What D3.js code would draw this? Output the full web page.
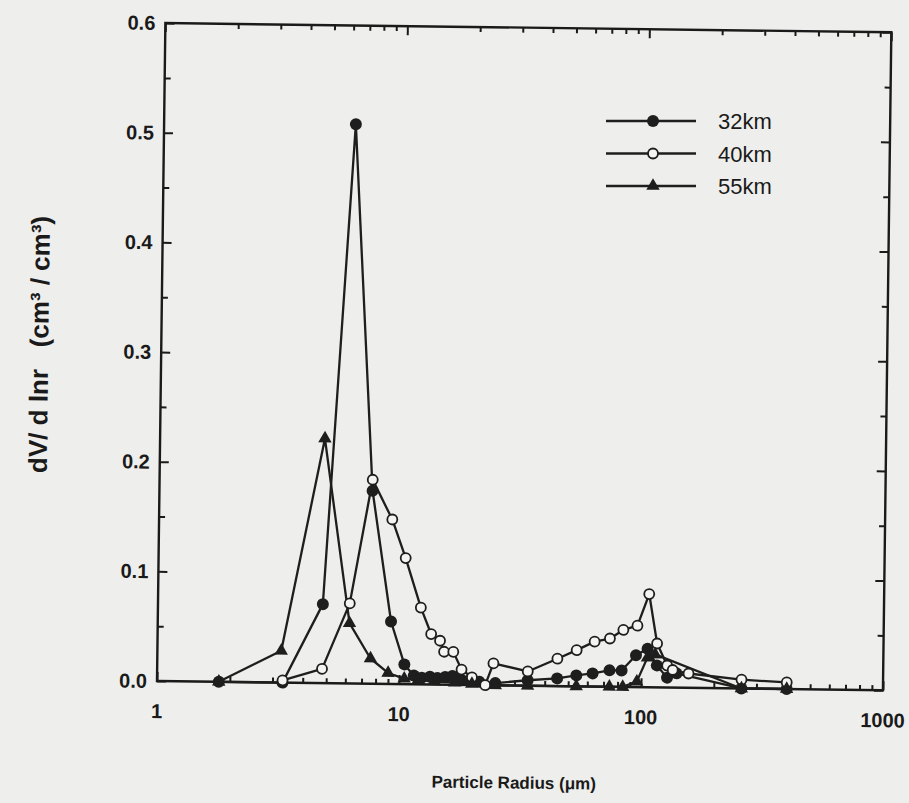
<!DOCTYPE html>
<html>
<head>
<meta charset="utf-8">
<script src="https://cdn.jsdelivr.net/npm/d3@7"></script>
<style>
  html, body { margin: 0; padding: 0; background: #eeeeec; }
  svg { display: block; }
  text { font-family: "Liberation Sans", Arial, Helvetica, sans-serif; fill: #1a1a1a; }
</style>
</head>
<body>
<div id="wrapper"></div>
<script>
// Data
const radius32 = [1.8, 3.3, 4.8, 6.2, 7.6, 9.2, 10.5, 11.5, 12.4, 13.4, 14.4, 15.5, 16.6, 18.0, 19.5, 21.5, 25, 34, 45, 54, 63, 74, 83, 95, 106, 116, 128, 140, 260, 400]
const dv32 = [0, 0, 0.072, 0.51, 0.176, 0.057, 0.018, 0.008, 0.006, 0.007, 0.006, 0.007, 0.008, 0.005, 0.004, 0.003, 0.002, 0.005, 0.007, 0.010, 0.012, 0.015, 0.015, 0.029, 0.035, 0.020, 0.009, 0.013, 0.0, 0.0]

const radius40 = [3.3, 4.8, 6.2, 7.6, 9.2, 10.5, 12.2, 13.5, 14.7, 15.3, 16.7, 18.1, 20.0, 22.7, 24.5, 34, 45, 54, 64, 74, 84, 96, 107, 116, 128, 135, 157, 260, 400]
const dv40 = [0.002, 0.013, 0.073, 0.186, 0.150, 0.115, 0.070, 0.046, 0.040, 0.030, 0.030, 0.014, 0.007, 0.0, 0.020, 0.013, 0.025, 0.033, 0.041, 0.044, 0.052, 0.056, 0.085, 0.040, 0.020, 0.016, 0.013, 0.008, 0.006]

const radius55 = [1.8, 3.25, 4.8, 6.2, 7.6, 9.0, 10.5, 12.0, 14.0, 17.0, 20.0, 25, 34, 54, 74, 84, 96, 106, 114, 260, 400]
const dv55 = [0, 0.029, 0.223, 0.055, 0.023, 0.010, 0.005, 0.004, 0.003, 0.002, 0.001, 0.0, 0.0, 0.0, 0.0, 0.0, 0.005, 0.027, 0.030, 0.0, 0.0]

const seriesNames = ["32km", "40km", "55km"]
const xTickValues = [1, 10, 100, 1000]
const yTickValues = [0, 0.1, 0.2, 0.3, 0.4, 0.5, 0.6]

// Mitoitus
const dimensions = {
  width: 909,
  height: 803,
  margin: { top: 23, left: 157 },
  boundedWidth: 726,
  boundedHeight: 658
}
const tilt = 0.73  // the scanned page is slightly rotated

const wrapper = d3.select("#wrapper")
  .append("svg")
  .attr("width", dimensions.width)
  .attr("height", dimensions.height)

wrapper.append("rect")
  .attr("width", dimensions.width)
  .attr("height", dimensions.height)
  .attr("fill", "#eeeeec")

const bounds = wrapper.append("g")
  .attr("transform", `rotate(${tilt}, ${dimensions.margin.left}, ${dimensions.margin.top + dimensions.boundedHeight}) translate(${dimensions.margin.left}, ${dimensions.margin.top})`)

// Skaalaimet
const xScale = d3.scaleLog()
  .domain([1, 1000])
  .range([0, dimensions.boundedWidth])

const yScale = d3.scaleLinear()
  .domain([0, 0.6])
  .range([dimensions.boundedHeight, 0])

// Akselit
const minorX = []
for (let d = 1; d < 1000; d *= 10) {
  for (let k = 2; k <= 9; k++) minorX.push(d * k)
}
const minorY = d3.range(0.05, 0.6, 0.1)

const frameColor = "#1a1a1a"

// bottom
bounds.append("g")
  .attr("transform", `translate(0, ${dimensions.boundedHeight})`)
  .call(d3.axisTop(xScale).tickValues(xTickValues).tickSize(9).tickFormat(""))
  .call(g => g.select(".domain").remove())
bounds.append("g")
  .attr("transform", `translate(0, ${dimensions.boundedHeight})`)
  .call(d3.axisTop(xScale).tickValues(minorX).tickSize(5).tickFormat(""))
  .call(g => g.select(".domain").remove())
// top
bounds.append("g")
  .call(d3.axisBottom(xScale).tickValues(xTickValues).tickSize(9).tickFormat(""))
  .call(g => g.select(".domain").remove())
bounds.append("g")
  .call(d3.axisBottom(xScale).tickValues(minorX).tickSize(5).tickFormat(""))
  .call(g => g.select(".domain").remove())
// left
bounds.append("g")
  .call(d3.axisRight(yScale).tickValues(yTickValues).tickSize(9).tickFormat(""))
  .call(g => g.select(".domain").remove())
bounds.append("g")
  .call(d3.axisRight(yScale).tickValues(minorY).tickSize(6).tickFormat(""))
  .call(g => g.select(".domain").remove())
// right
bounds.append("g")
  .attr("transform", `translate(${dimensions.boundedWidth}, 0)`)
  .call(d3.axisLeft(yScale).tickValues(yTickValues).tickSize(9).tickFormat(""))
  .call(g => g.select(".domain").remove())
bounds.append("g")
  .attr("transform", `translate(${dimensions.boundedWidth}, 0)`)
  .call(d3.axisLeft(yScale).tickValues(minorY).tickSize(6).tickFormat(""))
  .call(g => g.select(".domain").remove())

bounds.selectAll(".tick line")
  .attr("stroke", frameColor)
  .attr("stroke-width", 2)

bounds.append("rect")
  .attr("width", dimensions.boundedWidth)
  .attr("height", dimensions.boundedHeight)
  .attr("fill", "none")
  .attr("stroke", frameColor)
  .attr("stroke-width", 2.4)

// tick labels
bounds.selectAll(".xlabel")
  .data(xTickValues)
  .enter()
  .append("text")
  .attr("x", d => xScale(d))
  .attr("y", dimensions.boundedHeight + 37)
  .attr("text-anchor", "middle")
  .attr("font-size", "20px")
  .attr("font-weight", "bold")
  .text(d => d)

bounds.selectAll(".ylabel")
  .data(yTickValues)
  .enter()
  .append("text")
  .attr("x", -10)
  .attr("y", d => yScale(d) + 7)
  .attr("text-anchor", "end")
  .attr("font-size", "20px")
  .attr("font-weight", "bold")
  .text(d => d.toFixed(1))

// axis titles
bounds.append("text")
  .attr("x", xScale(Math.sqrt(1000)) - 5)
  .attr("y", dimensions.boundedHeight + 103)
  .attr("text-anchor", "middle")
  .attr("font-size", "17px")
  .attr("font-weight", "bold")
  .text("Particle Radius (μm)")

bounds.append("text")
  .attr("transform", `translate(-113, ${yScale(0.3) - 6}) rotate(-90)`)
  .attr("text-anchor", "middle")
  .attr("font-size", "26px")
  .attr("font-weight", "bold")
  .style("white-space", "pre")
  .text("dV/ d lnr   (cm³ / cm³)")

// Datan piirto
const series = [
  { name: seriesNames[0], r: radius32, v: dv32, marker: "filled" },
  { name: seriesNames[1], r: radius40, v: dv40, marker: "open" },
  { name: seriesNames[2], r: radius55, v: dv55, marker: "triangle" }
]

const lineGenerator = d3.line()
  .x(d => xScale(d[0]))
  .y(d => yScale(d[1]))

const lineColor = "#1e1e1e"

function drawMarker(sel, marker) {
  if (marker === "filled") {
    sel.append("circle").attr("r", 6).attr("fill", lineColor)
  } else if (marker === "open") {
    sel.append("circle").attr("r", 5).attr("fill", "#f4f4f2")
      .attr("stroke", lineColor).attr("stroke-width", 1.8)
  } else {
    sel.append("path")
      .attr("d", d3.symbol().type(d3.symbolTriangle).size(78)())
      .attr("fill", lineColor)
  }
}

series.forEach(s => {
  const pts = s.r.map((r, i) => [r, s.v[i]])
  bounds.append("path")
    .attr("d", lineGenerator(pts))
    .attr("fill", "none")
    .attr("stroke", lineColor)
    .attr("stroke-width", 2.3)
    .attr("stroke-linejoin", "round")
})

series.forEach(s => {
  const pts = s.r.map((r, i) => [r, s.v[i]])
  const g = bounds.selectAll(null)
    .data(pts)
    .enter()
    .append("g")
    .attr("transform", d => `translate(${xScale(d[0])}, ${yScale(d[1])})`)
  drawMarker(g, s.marker)
})

// Legend
const legend = wrapper.append("g")
series.forEach((s, i) => {
  const y = 121 + i * 32.5
  legend.append("line")
    .attr("x1", 606).attr("x2", 696)
    .attr("y1", y).attr("y2", y)
    .attr("stroke", lineColor)
    .attr("stroke-width", 2.3)
  const m = legend.append("g").attr("transform", `translate(653, ${y})`)
  drawMarker(m, s.marker)
  legend.append("text")
    .attr("x", 718)
    .attr("y", y + 8)
    .attr("font-size", "22px")
    .text(s.name)
})
</script>
</body>
</html>
